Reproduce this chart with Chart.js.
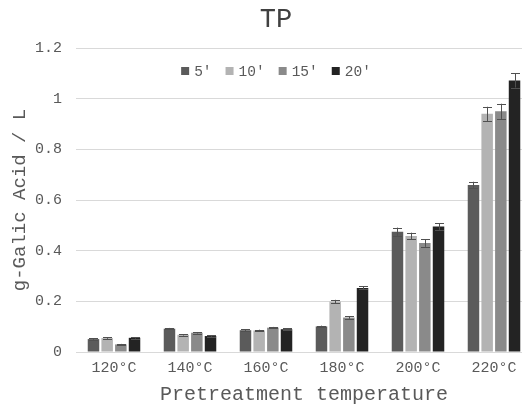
<!DOCTYPE html>
<html>
<head>
<meta charset="utf-8">
<script src="https://cdn.jsdelivr.net/npm/chart.js@4/dist/chart.umd.min.js"></script>
<style>
  html, body { margin: 0; padding: 0; background: #fff; }
  #wrap { width: 522px; height: 407px; overflow: hidden; }
</style>
</head>
<body>
<div id="wrap"><canvas id="myChart" width="552" height="407"></canvas></div>
<script>
// values
const categories = ['120°C', '140°C', '160°C', '180°C', '200°C', '220°C'];
const seriesNames = ["5'", "10'", "15'", "20'"];
const tp5  = [0.051, 0.092, 0.086, 0.101, 0.475, 0.659];
const tp10 = [0.055, 0.068, 0.085, 0.199, 0.458, 0.940];
const tp15 = [0.030, 0.076, 0.096, 0.136, 0.430, 0.950];
const tp20 = [0.056, 0.063, 0.090, 0.253, 0.495, 1.072];
const err5  = [0.003, 0.003, 0.003, 0.003, 0.016, 0.013];
const err10 = [0.003, 0.003, 0.003, 0.007, 0.013, 0.028];
const err15 = [0.002, 0.003, 0.003, 0.005, 0.015, 0.030];
const err20 = [0.003, 0.003, 0.003, 0.006, 0.013, 0.028];
const yTicks = [0, 0.2, 0.4, 0.6, 0.8, 1, 1.2];

const colors = ['#5b5b5b', '#b3b3b3', '#8a8a8a', '#232323'];
const MONO = '"Liberation Mono", "Courier New", monospace';

// error bars drawn with the y scale
const errorBars = {
  id: 'errorBars',
  afterDatasetsDraw(chart) {
    const ctx = chart.ctx;
    const y = chart.scales.y;
    ctx.save();
    ctx.strokeStyle = '#505050';
    ctx.lineWidth = 1;
    chart.data.datasets.forEach((ds, i) => {
      const meta = chart.getDatasetMeta(i);
      meta.data.forEach((bar, j) => {
        const v = ds.data[j], e = ds.errors[j];
        const top = y.getPixelForValue(v + e);
        const bot = y.getPixelForValue(v - e);
        const x = Math.round(bar.x) + 0.5;
        ctx.beginPath();
        ctx.moveTo(x, top); ctx.lineTo(x, bot);
        ctx.moveTo(x - 4.5, Math.round(top) + 0.5); ctx.lineTo(x + 4.5, Math.round(top) + 0.5);
        ctx.moveTo(x - 4.5, Math.round(bot) + 0.5); ctx.lineTo(x + 4.5, Math.round(bot) + 0.5);
        ctx.stroke();
      });
    });
    ctx.restore();
  }
};

// legend sits inside the plot, centred on the chart like the original
const innerLegend = {
  id: 'innerLegend',
  afterDraw(chart) {
    const ctx = chart.ctx;
    const box = 8, gap = 5, space = 14;
    ctx.save();
    ctx.font = '14.5px ' + MONO;
    const items = chart.data.datasets.map(ds => {
      return { text: ds.label, color: ds.backgroundColor, w: box + gap + ctx.measureText(ds.label).width };
    });
    const total = items.reduce((a, it) => a + it.w, 0) + space * (items.length - 1);
    let x = chart.width / 2 - total / 2;
    const yMid = chart.chartArea.top + 23;
    ctx.textBaseline = 'middle';
    items.forEach(it => {
      ctx.fillStyle = it.color;
      ctx.fillRect(x, yMid - 4, box, box);
      ctx.fillStyle = '#595959';
      ctx.fillText(it.text, x + box + gap, yMid + 1);
      x += it.w + space;
    });
    ctx.restore();
  }
};

const chartData = {
  labels: categories,
  datasets: [
    { label: seriesNames[0], data: tp5,  errors: err5,  backgroundColor: colors[0] },
    { label: seriesNames[1], data: tp10, errors: err10, backgroundColor: colors[1] },
    { label: seriesNames[2], data: tp15, errors: err15, backgroundColor: colors[2] },
    { label: seriesNames[3], data: tp20, errors: err20, backgroundColor: colors[3] }
  ]
};

const myChart = new Chart(document.getElementById('myChart'), {
  type: 'bar',
  data: chartData,
  plugins: [errorBars, innerLegend],
  options: {
    responsive: false,
    animation: false,
    devicePixelRatio: 1,
    categoryPercentage: 0.72,
    barPercentage: 0.84,
    layout: { padding: { left: 20, right: 20, top: 0, bottom: 0 } },
    plugins: {
      legend: { display: false },
      tooltip: { enabled: false },
      title: {
        display: true,
        text: 'TP',
        color: '#404040',
        font: { family: MONO, size: 27, weight: 'normal' },
        padding: { top: 4, bottom: 11.6 }
      }
    },
    scales: {
      x: {
        afterFit: axis => { axis.height = 55; },
        grid: { display: false, drawTicks: false },
        border: { color: '#d9d9d9' },
        ticks: { color: '#595959', font: { family: MONO, size: 15 }, padding: 7 },
        title: {
          display: true,
          text: 'Pretreatment temperature',
          color: '#595959',
          font: { family: MONO, size: 20 },
          padding: { top: 0, bottom: 0 }
        }
      },
      y: {
        min: 0,
        max: 1.2,
        afterFit: axis => { axis.width = 56; },
        afterBuildTicks: axis => { axis.ticks = yTicks.map(v => ({ value: v })); },
        grid: { color: '#d9d9d9', drawTicks: false },
        border: { display: false },
        ticks: {
          color: '#595959',
          font: { family: MONO, size: 15 },
          padding: 14,
          callback: v => String(v)
        },
        title: {
          display: true,
          text: 'g-Galic Acid / L',
          color: '#595959',
          font: { family: MONO, size: 19 },
          padding: { top: -11, bottom: 4 }
        }
      }
    }
  }
});
</script>
</body>
</html>
